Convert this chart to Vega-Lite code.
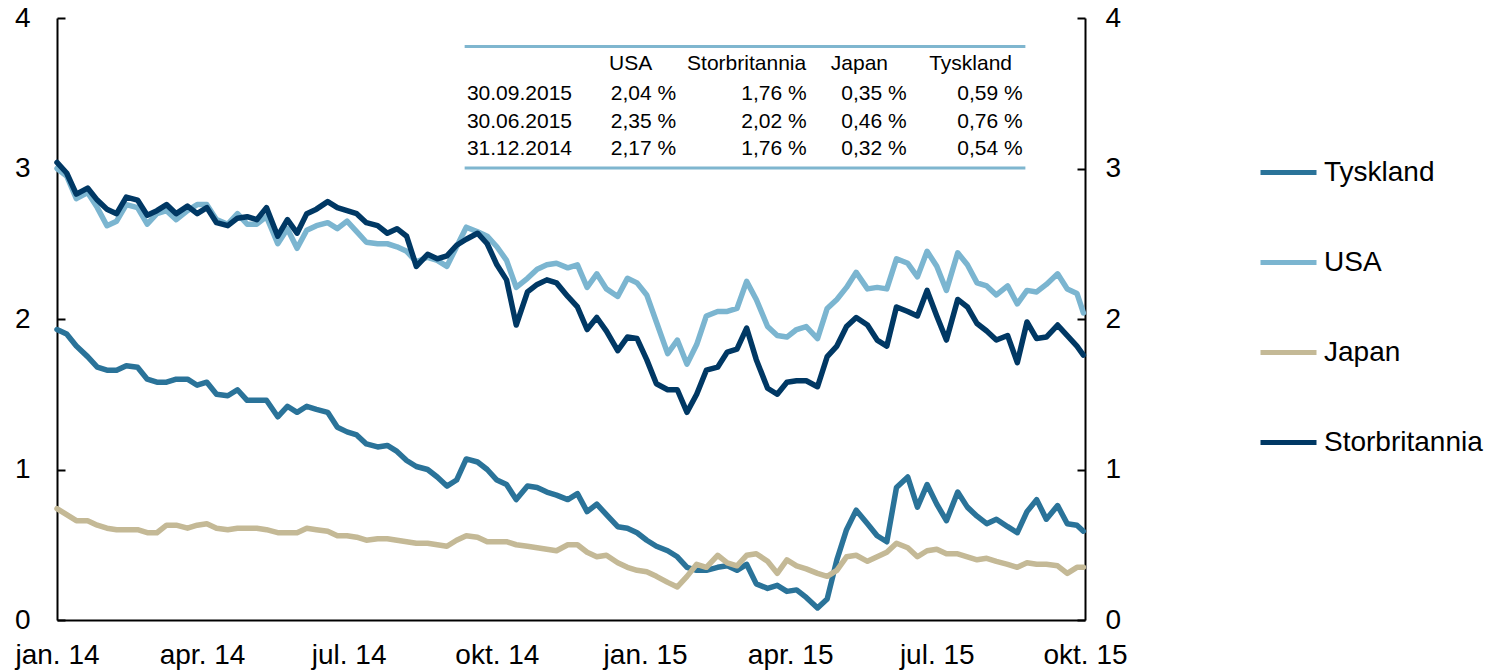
{
"$schema": "https://vega.github.io/schema/vega-lite/v6.json",
"width": 1028, "height": 602,
"autosize": {"type": "none"},
"padding": {"left": 57, "top": 18, "right": 410, "bottom": 50},
"background": "white",
"config": {"view": {"stroke": null}, "font": "Liberation Sans"},
"datasets": {
"series": [
{"d":"2014-01-01","s":"Tyskland","v":1.93},{"d":"2014-01-07","s":"Tyskland","v":1.90},{"d":"2014-01-13","s":"Tyskland","v":1.82},{"d":"2014-01-20","s":"Tyskland","v":1.75},{"d":"2014-01-26","s":"Tyskland","v":1.68},{"d":"2014-02-01","s":"Tyskland","v":1.66},{"d":"2014-02-07","s":"Tyskland","v":1.66},{"d":"2014-02-13","s":"Tyskland","v":1.69},{"d":"2014-02-20","s":"Tyskland","v":1.68},{"d":"2014-02-26","s":"Tyskland","v":1.60},
{"d":"2014-03-04","s":"Tyskland","v":1.58},{"d":"2014-03-10","s":"Tyskland","v":1.58},{"d":"2014-03-16","s":"Tyskland","v":1.60},{"d":"2014-03-23","s":"Tyskland","v":1.60},{"d":"2014-03-29","s":"Tyskland","v":1.56},{"d":"2014-04-04","s":"Tyskland","v":1.58},{"d":"2014-04-10","s":"Tyskland","v":1.50},{"d":"2014-04-17","s":"Tyskland","v":1.49},{"d":"2014-04-23","s":"Tyskland","v":1.53},{"d":"2014-04-29","s":"Tyskland","v":1.46},
{"d":"2014-05-05","s":"Tyskland","v":1.46},{"d":"2014-05-11","s":"Tyskland","v":1.46},{"d":"2014-05-18","s":"Tyskland","v":1.35},{"d":"2014-05-24","s":"Tyskland","v":1.42},{"d":"2014-05-30","s":"Tyskland","v":1.38},{"d":"2014-06-05","s":"Tyskland","v":1.42},{"d":"2014-06-11","s":"Tyskland","v":1.40},{"d":"2014-06-18","s":"Tyskland","v":1.38},{"d":"2014-06-24","s":"Tyskland","v":1.28},{"d":"2014-06-30","s":"Tyskland","v":1.25},
{"d":"2014-07-06","s":"Tyskland","v":1.23},{"d":"2014-07-12","s":"Tyskland","v":1.17},{"d":"2014-07-19","s":"Tyskland","v":1.15},{"d":"2014-07-25","s":"Tyskland","v":1.16},{"d":"2014-07-31","s":"Tyskland","v":1.12},{"d":"2014-08-06","s":"Tyskland","v":1.06},{"d":"2014-08-12","s":"Tyskland","v":1.02},{"d":"2014-08-19","s":"Tyskland","v":1.00},{"d":"2014-08-25","s":"Tyskland","v":0.95},{"d":"2014-08-31","s":"Tyskland","v":0.89},
{"d":"2014-09-06","s":"Tyskland","v":0.93},{"d":"2014-09-12","s":"Tyskland","v":1.07},{"d":"2014-09-19","s":"Tyskland","v":1.05},{"d":"2014-09-25","s":"Tyskland","v":1.00},{"d":"2014-10-01","s":"Tyskland","v":0.93},{"d":"2014-10-07","s":"Tyskland","v":0.90},{"d":"2014-10-13","s":"Tyskland","v":0.80},{"d":"2014-10-20","s":"Tyskland","v":0.89},{"d":"2014-10-26","s":"Tyskland","v":0.88},{"d":"2014-11-01","s":"Tyskland","v":0.85},
{"d":"2014-11-07","s":"Tyskland","v":0.83},{"d":"2014-11-14","s":"Tyskland","v":0.80},{"d":"2014-11-20","s":"Tyskland","v":0.84},{"d":"2014-11-26","s":"Tyskland","v":0.72},{"d":"2014-12-02","s":"Tyskland","v":0.77},{"d":"2014-12-08","s":"Tyskland","v":0.70},{"d":"2014-12-15","s":"Tyskland","v":0.62},{"d":"2014-12-21","s":"Tyskland","v":0.61},{"d":"2014-12-27","s":"Tyskland","v":0.58},{"d":"2015-01-02","s":"Tyskland","v":0.53},
{"d":"2015-01-08","s":"Tyskland","v":0.49},{"d":"2015-01-15","s":"Tyskland","v":0.46},{"d":"2015-01-21","s":"Tyskland","v":0.42},{"d":"2015-01-27","s":"Tyskland","v":0.35},{"d":"2015-02-02","s":"Tyskland","v":0.33},{"d":"2015-02-08","s":"Tyskland","v":0.33},{"d":"2015-02-15","s":"Tyskland","v":0.35},{"d":"2015-02-21","s":"Tyskland","v":0.36},{"d":"2015-02-27","s":"Tyskland","v":0.33},{"d":"2015-03-05","s":"Tyskland","v":0.37},
{"d":"2015-03-11","s":"Tyskland","v":0.24},{"d":"2015-03-18","s":"Tyskland","v":0.21},{"d":"2015-03-24","s":"Tyskland","v":0.23},{"d":"2015-03-30","s":"Tyskland","v":0.19},{"d":"2015-04-05","s":"Tyskland","v":0.20},{"d":"2015-04-11","s":"Tyskland","v":0.15},{"d":"2015-04-18","s":"Tyskland","v":0.08},{"d":"2015-04-24","s":"Tyskland","v":0.14},{"d":"2015-04-30","s":"Tyskland","v":0.40},{"d":"2015-05-06","s":"Tyskland","v":0.60},
{"d":"2015-05-12","s":"Tyskland","v":0.73},{"d":"2015-05-19","s":"Tyskland","v":0.64},{"d":"2015-05-25","s":"Tyskland","v":0.56},{"d":"2015-05-31","s":"Tyskland","v":0.52},{"d":"2015-06-06","s":"Tyskland","v":0.88},{"d":"2015-06-13","s":"Tyskland","v":0.95},{"d":"2015-06-19","s":"Tyskland","v":0.75},{"d":"2015-06-25","s":"Tyskland","v":0.90},{"d":"2015-07-01","s":"Tyskland","v":0.77},{"d":"2015-07-07","s":"Tyskland","v":0.66},
{"d":"2015-07-14","s":"Tyskland","v":0.85},{"d":"2015-07-20","s":"Tyskland","v":0.75},{"d":"2015-07-26","s":"Tyskland","v":0.69},{"d":"2015-08-01","s":"Tyskland","v":0.64},{"d":"2015-08-07","s":"Tyskland","v":0.67},{"d":"2015-08-14","s":"Tyskland","v":0.62},{"d":"2015-08-20","s":"Tyskland","v":0.58},{"d":"2015-08-26","s":"Tyskland","v":0.72},{"d":"2015-09-01","s":"Tyskland","v":0.80},{"d":"2015-09-07","s":"Tyskland","v":0.67},
{"d":"2015-09-14","s":"Tyskland","v":0.76},{"d":"2015-09-20","s":"Tyskland","v":0.64},{"d":"2015-09-26","s":"Tyskland","v":0.63},{"d":"2015-09-30","s":"Tyskland","v":0.59},

{"d":"2014-01-01","s":"USA","v":3.00},{"d":"2014-01-07","s":"USA","v":2.95},{"d":"2014-01-13","s":"USA","v":2.80},{"d":"2014-01-20","s":"USA","v":2.84},{"d":"2014-01-26","s":"USA","v":2.74},{"d":"2014-02-01","s":"USA","v":2.62},{"d":"2014-02-07","s":"USA","v":2.65},{"d":"2014-02-13","s":"USA","v":2.76},{"d":"2014-02-20","s":"USA","v":2.74},{"d":"2014-02-26","s":"USA","v":2.63},
{"d":"2014-03-04","s":"USA","v":2.70},{"d":"2014-03-10","s":"USA","v":2.72},{"d":"2014-03-16","s":"USA","v":2.66},{"d":"2014-03-23","s":"USA","v":2.72},{"d":"2014-03-29","s":"USA","v":2.76},{"d":"2014-04-04","s":"USA","v":2.76},{"d":"2014-04-10","s":"USA","v":2.66},{"d":"2014-04-17","s":"USA","v":2.63},{"d":"2014-04-23","s":"USA","v":2.70},{"d":"2014-04-29","s":"USA","v":2.63},
{"d":"2014-05-05","s":"USA","v":2.63},{"d":"2014-05-11","s":"USA","v":2.68},{"d":"2014-05-18","s":"USA","v":2.50},{"d":"2014-05-24","s":"USA","v":2.60},{"d":"2014-05-30","s":"USA","v":2.47},{"d":"2014-06-05","s":"USA","v":2.59},{"d":"2014-06-11","s":"USA","v":2.62},{"d":"2014-06-18","s":"USA","v":2.64},{"d":"2014-06-24","s":"USA","v":2.60},{"d":"2014-06-30","s":"USA","v":2.65},
{"d":"2014-07-06","s":"USA","v":2.58},{"d":"2014-07-12","s":"USA","v":2.51},{"d":"2014-07-19","s":"USA","v":2.50},{"d":"2014-07-25","s":"USA","v":2.50},{"d":"2014-07-31","s":"USA","v":2.48},{"d":"2014-08-06","s":"USA","v":2.45},{"d":"2014-08-12","s":"USA","v":2.38},{"d":"2014-08-19","s":"USA","v":2.41},{"d":"2014-08-25","s":"USA","v":2.39},{"d":"2014-08-31","s":"USA","v":2.35},
{"d":"2014-09-06","s":"USA","v":2.48},{"d":"2014-09-12","s":"USA","v":2.61},{"d":"2014-09-19","s":"USA","v":2.58},{"d":"2014-09-25","s":"USA","v":2.55},{"d":"2014-10-01","s":"USA","v":2.48},{"d":"2014-10-07","s":"USA","v":2.39},{"d":"2014-10-13","s":"USA","v":2.21},{"d":"2014-10-20","s":"USA","v":2.27},{"d":"2014-10-26","s":"USA","v":2.33},{"d":"2014-11-01","s":"USA","v":2.36},
{"d":"2014-11-07","s":"USA","v":2.37},{"d":"2014-11-14","s":"USA","v":2.34},{"d":"2014-11-20","s":"USA","v":2.36},{"d":"2014-11-26","s":"USA","v":2.21},{"d":"2014-12-02","s":"USA","v":2.30},{"d":"2014-12-08","s":"USA","v":2.20},{"d":"2014-12-15","s":"USA","v":2.15},{"d":"2014-12-21","s":"USA","v":2.27},{"d":"2014-12-27","s":"USA","v":2.24},{"d":"2015-01-02","s":"USA","v":2.16},
{"d":"2015-01-08","s":"USA","v":1.98},{"d":"2015-01-15","s":"USA","v":1.77},{"d":"2015-01-21","s":"USA","v":1.86},{"d":"2015-01-27","s":"USA","v":1.70},{"d":"2015-02-02","s":"USA","v":1.83},{"d":"2015-02-08","s":"USA","v":2.02},{"d":"2015-02-15","s":"USA","v":2.05},{"d":"2015-02-21","s":"USA","v":2.05},{"d":"2015-02-27","s":"USA","v":2.07},{"d":"2015-03-05","s":"USA","v":2.25},
{"d":"2015-03-11","s":"USA","v":2.13},{"d":"2015-03-18","s":"USA","v":1.95},{"d":"2015-03-24","s":"USA","v":1.89},{"d":"2015-03-30","s":"USA","v":1.88},{"d":"2015-04-05","s":"USA","v":1.93},{"d":"2015-04-11","s":"USA","v":1.95},{"d":"2015-04-18","s":"USA","v":1.87},{"d":"2015-04-24","s":"USA","v":2.07},{"d":"2015-04-30","s":"USA","v":2.13},{"d":"2015-05-06","s":"USA","v":2.21},
{"d":"2015-05-12","s":"USA","v":2.31},{"d":"2015-05-19","s":"USA","v":2.20},{"d":"2015-05-25","s":"USA","v":2.21},{"d":"2015-05-31","s":"USA","v":2.20},{"d":"2015-06-06","s":"USA","v":2.40},{"d":"2015-06-13","s":"USA","v":2.37},{"d":"2015-06-19","s":"USA","v":2.28},{"d":"2015-06-25","s":"USA","v":2.45},{"d":"2015-07-01","s":"USA","v":2.35},{"d":"2015-07-07","s":"USA","v":2.19},
{"d":"2015-07-14","s":"USA","v":2.44},{"d":"2015-07-20","s":"USA","v":2.36},{"d":"2015-07-26","s":"USA","v":2.24},{"d":"2015-08-01","s":"USA","v":2.22},{"d":"2015-08-07","s":"USA","v":2.16},{"d":"2015-08-14","s":"USA","v":2.22},{"d":"2015-08-20","s":"USA","v":2.10},{"d":"2015-08-26","s":"USA","v":2.19},{"d":"2015-09-01","s":"USA","v":2.18},{"d":"2015-09-07","s":"USA","v":2.23},
{"d":"2015-09-14","s":"USA","v":2.30},{"d":"2015-09-20","s":"USA","v":2.20},{"d":"2015-09-26","s":"USA","v":2.17},{"d":"2015-09-30","s":"USA","v":2.04},

{"d":"2014-01-01","s":"Japan","v":0.74},{"d":"2014-01-07","s":"Japan","v":0.70},{"d":"2014-01-13","s":"Japan","v":0.66},{"d":"2014-01-20","s":"Japan","v":0.66},{"d":"2014-01-26","s":"Japan","v":0.63},{"d":"2014-02-01","s":"Japan","v":0.61},{"d":"2014-02-07","s":"Japan","v":0.60},{"d":"2014-02-13","s":"Japan","v":0.60},{"d":"2014-02-20","s":"Japan","v":0.60},{"d":"2014-02-26","s":"Japan","v":0.58},
{"d":"2014-03-04","s":"Japan","v":0.58},{"d":"2014-03-10","s":"Japan","v":0.63},{"d":"2014-03-16","s":"Japan","v":0.63},{"d":"2014-03-23","s":"Japan","v":0.61},{"d":"2014-03-29","s":"Japan","v":0.63},{"d":"2014-04-04","s":"Japan","v":0.64},{"d":"2014-04-10","s":"Japan","v":0.61},{"d":"2014-04-17","s":"Japan","v":0.60},{"d":"2014-04-23","s":"Japan","v":0.61},{"d":"2014-04-29","s":"Japan","v":0.61},
{"d":"2014-05-05","s":"Japan","v":0.61},{"d":"2014-05-11","s":"Japan","v":0.60},{"d":"2014-05-18","s":"Japan","v":0.58},{"d":"2014-05-24","s":"Japan","v":0.58},{"d":"2014-05-30","s":"Japan","v":0.58},{"d":"2014-06-05","s":"Japan","v":0.61},{"d":"2014-06-11","s":"Japan","v":0.60},{"d":"2014-06-18","s":"Japan","v":0.59},{"d":"2014-06-24","s":"Japan","v":0.56},{"d":"2014-06-30","s":"Japan","v":0.56},
{"d":"2014-07-06","s":"Japan","v":0.55},{"d":"2014-07-12","s":"Japan","v":0.53},{"d":"2014-07-19","s":"Japan","v":0.54},{"d":"2014-07-25","s":"Japan","v":0.54},{"d":"2014-07-31","s":"Japan","v":0.53},{"d":"2014-08-06","s":"Japan","v":0.52},{"d":"2014-08-12","s":"Japan","v":0.51},{"d":"2014-08-19","s":"Japan","v":0.51},{"d":"2014-08-25","s":"Japan","v":0.50},{"d":"2014-08-31","s":"Japan","v":0.49},
{"d":"2014-09-06","s":"Japan","v":0.53},{"d":"2014-09-12","s":"Japan","v":0.56},{"d":"2014-09-19","s":"Japan","v":0.55},{"d":"2014-09-25","s":"Japan","v":0.52},{"d":"2014-10-01","s":"Japan","v":0.52},{"d":"2014-10-07","s":"Japan","v":0.52},{"d":"2014-10-13","s":"Japan","v":0.50},{"d":"2014-10-20","s":"Japan","v":0.49},{"d":"2014-10-26","s":"Japan","v":0.48},{"d":"2014-11-01","s":"Japan","v":0.47},
{"d":"2014-11-07","s":"Japan","v":0.46},{"d":"2014-11-14","s":"Japan","v":0.50},{"d":"2014-11-20","s":"Japan","v":0.50},{"d":"2014-11-26","s":"Japan","v":0.45},{"d":"2014-12-02","s":"Japan","v":0.42},{"d":"2014-12-08","s":"Japan","v":0.43},{"d":"2014-12-15","s":"Japan","v":0.38},{"d":"2014-12-21","s":"Japan","v":0.35},{"d":"2014-12-27","s":"Japan","v":0.33},{"d":"2015-01-02","s":"Japan","v":0.32},
{"d":"2015-01-08","s":"Japan","v":0.29},{"d":"2015-01-15","s":"Japan","v":0.25},{"d":"2015-01-21","s":"Japan","v":0.22},{"d":"2015-01-27","s":"Japan","v":0.29},{"d":"2015-02-02","s":"Japan","v":0.37},{"d":"2015-02-08","s":"Japan","v":0.35},{"d":"2015-02-15","s":"Japan","v":0.43},{"d":"2015-02-21","s":"Japan","v":0.38},{"d":"2015-02-27","s":"Japan","v":0.36},{"d":"2015-03-05","s":"Japan","v":0.43},
{"d":"2015-03-11","s":"Japan","v":0.44},{"d":"2015-03-18","s":"Japan","v":0.39},{"d":"2015-03-24","s":"Japan","v":0.31},{"d":"2015-03-30","s":"Japan","v":0.40},{"d":"2015-04-05","s":"Japan","v":0.36},{"d":"2015-04-11","s":"Japan","v":0.34},{"d":"2015-04-18","s":"Japan","v":0.31},{"d":"2015-04-24","s":"Japan","v":0.29},{"d":"2015-04-30","s":"Japan","v":0.33},{"d":"2015-05-06","s":"Japan","v":0.42},
{"d":"2015-05-12","s":"Japan","v":0.43},{"d":"2015-05-19","s":"Japan","v":0.39},{"d":"2015-05-25","s":"Japan","v":0.42},{"d":"2015-05-31","s":"Japan","v":0.45},{"d":"2015-06-06","s":"Japan","v":0.51},{"d":"2015-06-13","s":"Japan","v":0.48},{"d":"2015-06-19","s":"Japan","v":0.42},{"d":"2015-06-25","s":"Japan","v":0.46},{"d":"2015-07-01","s":"Japan","v":0.47},{"d":"2015-07-07","s":"Japan","v":0.44},
{"d":"2015-07-14","s":"Japan","v":0.44},{"d":"2015-07-20","s":"Japan","v":0.42},{"d":"2015-07-26","s":"Japan","v":0.40},{"d":"2015-08-01","s":"Japan","v":0.41},{"d":"2015-08-07","s":"Japan","v":0.39},{"d":"2015-08-14","s":"Japan","v":0.37},{"d":"2015-08-20","s":"Japan","v":0.35},{"d":"2015-08-26","s":"Japan","v":0.38},{"d":"2015-09-01","s":"Japan","v":0.37},{"d":"2015-09-07","s":"Japan","v":0.37},
{"d":"2015-09-14","s":"Japan","v":0.36},{"d":"2015-09-20","s":"Japan","v":0.31},{"d":"2015-09-26","s":"Japan","v":0.35},{"d":"2015-09-30","s":"Japan","v":0.35},

{"d":"2014-01-01","s":"Storbritannia","v":3.04},{"d":"2014-01-07","s":"Storbritannia","v":2.97},{"d":"2014-01-13","s":"Storbritannia","v":2.83},{"d":"2014-01-20","s":"Storbritannia","v":2.87},{"d":"2014-01-26","s":"Storbritannia","v":2.79},{"d":"2014-02-01","s":"Storbritannia","v":2.73},{"d":"2014-02-07","s":"Storbritannia","v":2.70},{"d":"2014-02-13","s":"Storbritannia","v":2.81},{"d":"2014-02-20","s":"Storbritannia","v":2.79},{"d":"2014-02-26","s":"Storbritannia","v":2.69},
{"d":"2014-03-04","s":"Storbritannia","v":2.72},{"d":"2014-03-10","s":"Storbritannia","v":2.76},{"d":"2014-03-16","s":"Storbritannia","v":2.70},{"d":"2014-03-23","s":"Storbritannia","v":2.75},{"d":"2014-03-29","s":"Storbritannia","v":2.70},{"d":"2014-04-04","s":"Storbritannia","v":2.74},{"d":"2014-04-10","s":"Storbritannia","v":2.64},{"d":"2014-04-17","s":"Storbritannia","v":2.62},{"d":"2014-04-23","s":"Storbritannia","v":2.67},{"d":"2014-04-29","s":"Storbritannia","v":2.68},
{"d":"2014-05-05","s":"Storbritannia","v":2.66},{"d":"2014-05-11","s":"Storbritannia","v":2.74},{"d":"2014-05-18","s":"Storbritannia","v":2.55},{"d":"2014-05-24","s":"Storbritannia","v":2.66},{"d":"2014-05-30","s":"Storbritannia","v":2.57},{"d":"2014-06-05","s":"Storbritannia","v":2.70},{"d":"2014-06-11","s":"Storbritannia","v":2.73},{"d":"2014-06-18","s":"Storbritannia","v":2.78},{"d":"2014-06-24","s":"Storbritannia","v":2.74},{"d":"2014-06-30","s":"Storbritannia","v":2.72},
{"d":"2014-07-06","s":"Storbritannia","v":2.70},{"d":"2014-07-12","s":"Storbritannia","v":2.64},{"d":"2014-07-19","s":"Storbritannia","v":2.62},{"d":"2014-07-25","s":"Storbritannia","v":2.57},{"d":"2014-07-31","s":"Storbritannia","v":2.60},{"d":"2014-08-06","s":"Storbritannia","v":2.55},{"d":"2014-08-12","s":"Storbritannia","v":2.35},{"d":"2014-08-19","s":"Storbritannia","v":2.43},{"d":"2014-08-25","s":"Storbritannia","v":2.40},{"d":"2014-08-31","s":"Storbritannia","v":2.42},
{"d":"2014-09-06","s":"Storbritannia","v":2.49},{"d":"2014-09-12","s":"Storbritannia","v":2.53},{"d":"2014-09-19","s":"Storbritannia","v":2.57},{"d":"2014-09-25","s":"Storbritannia","v":2.50},{"d":"2014-10-01","s":"Storbritannia","v":2.36},{"d":"2014-10-07","s":"Storbritannia","v":2.26},{"d":"2014-10-13","s":"Storbritannia","v":1.96},{"d":"2014-10-20","s":"Storbritannia","v":2.18},{"d":"2014-10-26","s":"Storbritannia","v":2.23},{"d":"2014-11-01","s":"Storbritannia","v":2.26},
{"d":"2014-11-07","s":"Storbritannia","v":2.24},{"d":"2014-11-14","s":"Storbritannia","v":2.15},{"d":"2014-11-20","s":"Storbritannia","v":2.08},{"d":"2014-11-26","s":"Storbritannia","v":1.93},{"d":"2014-12-02","s":"Storbritannia","v":2.01},{"d":"2014-12-08","s":"Storbritannia","v":1.92},{"d":"2014-12-15","s":"Storbritannia","v":1.79},{"d":"2014-12-21","s":"Storbritannia","v":1.88},{"d":"2014-12-27","s":"Storbritannia","v":1.87},{"d":"2015-01-02","s":"Storbritannia","v":1.73},
{"d":"2015-01-08","s":"Storbritannia","v":1.57},{"d":"2015-01-15","s":"Storbritannia","v":1.53},{"d":"2015-01-21","s":"Storbritannia","v":1.53},{"d":"2015-01-27","s":"Storbritannia","v":1.38},{"d":"2015-02-02","s":"Storbritannia","v":1.50},{"d":"2015-02-08","s":"Storbritannia","v":1.66},{"d":"2015-02-15","s":"Storbritannia","v":1.68},{"d":"2015-02-21","s":"Storbritannia","v":1.78},{"d":"2015-02-27","s":"Storbritannia","v":1.80},{"d":"2015-03-05","s":"Storbritannia","v":1.94},
{"d":"2015-03-11","s":"Storbritannia","v":1.73},{"d":"2015-03-18","s":"Storbritannia","v":1.54},{"d":"2015-03-24","s":"Storbritannia","v":1.50},{"d":"2015-03-30","s":"Storbritannia","v":1.58},{"d":"2015-04-05","s":"Storbritannia","v":1.59},{"d":"2015-04-11","s":"Storbritannia","v":1.59},{"d":"2015-04-18","s":"Storbritannia","v":1.55},{"d":"2015-04-24","s":"Storbritannia","v":1.75},{"d":"2015-04-30","s":"Storbritannia","v":1.82},{"d":"2015-05-06","s":"Storbritannia","v":1.95},
{"d":"2015-05-12","s":"Storbritannia","v":2.01},{"d":"2015-05-19","s":"Storbritannia","v":1.96},{"d":"2015-05-25","s":"Storbritannia","v":1.86},{"d":"2015-05-31","s":"Storbritannia","v":1.82},{"d":"2015-06-06","s":"Storbritannia","v":2.08},{"d":"2015-06-13","s":"Storbritannia","v":2.05},{"d":"2015-06-19","s":"Storbritannia","v":2.02},{"d":"2015-06-25","s":"Storbritannia","v":2.19},{"d":"2015-07-01","s":"Storbritannia","v":2.02},{"d":"2015-07-07","s":"Storbritannia","v":1.86},
{"d":"2015-07-14","s":"Storbritannia","v":2.13},{"d":"2015-07-20","s":"Storbritannia","v":2.08},{"d":"2015-07-26","s":"Storbritannia","v":1.97},{"d":"2015-08-01","s":"Storbritannia","v":1.92},{"d":"2015-08-07","s":"Storbritannia","v":1.86},{"d":"2015-08-14","s":"Storbritannia","v":1.89},{"d":"2015-08-20","s":"Storbritannia","v":1.71},{"d":"2015-08-26","s":"Storbritannia","v":1.98},{"d":"2015-09-01","s":"Storbritannia","v":1.87},{"d":"2015-09-07","s":"Storbritannia","v":1.88},
{"d":"2015-09-14","s":"Storbritannia","v":1.96},{"d":"2015-09-20","s":"Storbritannia","v":1.89},{"d":"2015-09-26","s":"Storbritannia","v":1.82},{"d":"2015-09-30","s":"Storbritannia","v":1.76}
],
"rules": [
{"d":"2014-09-11","d2":"2015-08-25","v":3.81},
{"d":"2014-09-11","d2":"2015-08-25","v":3.003}
],
"table": [
{"d":"2014-12-23","v":3.694,"t":"USA"},
{"d":"2015-03-05","v":3.694,"t":"Storbritannia"},
{"d":"2015-05-14","v":3.694,"t":"Japan"},
{"d":"2015-07-22","v":3.694,"t":"Tyskland"},
{"d":"2014-10-15","v":3.495,"t":"30.09.2015"},
{"d":"2014-12-31","v":3.495,"t":"2,04 %"},
{"d":"2015-03-22","v":3.495,"t":"1,76 %"},
{"d":"2015-05-23","v":3.495,"t":"0,35 %"},
{"d":"2015-08-03","v":3.495,"t":"0,59 %"},
{"d":"2014-10-15","v":3.306,"t":"30.06.2015"},
{"d":"2014-12-31","v":3.306,"t":"2,35 %"},
{"d":"2015-03-22","v":3.306,"t":"2,02 %"},
{"d":"2015-05-23","v":3.306,"t":"0,46 %"},
{"d":"2015-08-03","v":3.306,"t":"0,76 %"},
{"d":"2014-10-15","v":3.13,"t":"31.12.2014"},
{"d":"2014-12-31","v":3.13,"t":"2,17 %"},
{"d":"2015-03-22","v":3.13,"t":"1,76 %"},
{"d":"2015-05-23","v":3.13,"t":"0,32 %"},
{"d":"2015-08-03","v":3.13,"t":"0,54 %"}
]
},
"layer": [
{
"data": {"name": "series"},
"mark": {"type": "line", "strokeWidth": 5.5, "strokeJoin": "round", "strokeCap": "round"},
"encoding": {
"x": {"field": "d", "type": "temporal", "title": null,
"scale": {"type": "utc", "domain": [{"year": 2014, "month": 1, "date": 1, "utc": true}, {"year": 2015, "month": 10, "date": 1, "utc": true}]},
"axis": {"values": [{"year": 2014, "month": 1, "date": 1, "utc": true}, {"year": 2014, "month": 4, "date": 1, "utc": true}, {"year": 2014, "month": 7, "date": 1, "utc": true}, {"year": 2014, "month": 10, "date": 1, "utc": true}, {"year": 2015, "month": 1, "date": 1, "utc": true}, {"year": 2015, "month": 4, "date": 1, "utc": true}, {"year": 2015, "month": 7, "date": 1, "utc": true}, {"year": 2015, "month": 10, "date": 1, "utc": true}],
"labelExpr": "['jan.','feb.','mar.','apr.','mai','jun.','jul.','aug.','sep.','okt.','nov.','des.'][utcmonth(datum.value)] + ' ' + utcFormat(datum.value, '%y')",
"ticks": false, "grid": false, "domainColor": "black", "domainWidth": 2,
"labelFontSize": 28, "labelFont": "Liberation Sans", "labelColor": "black", "labelPadding": 21,
"labelFlush": false, "labelOverlap": false, "labelBound": false}},
"y": {"field": "v", "type": "quantitative", "title": null,
"scale": {"domain": [0, 4], "nice": false, "zero": false},
"axis": {"orient": "left", "values": [0, 1, 2, 3, 4], "format": "d", "grid": false,
"tickSize": -8, "tickWidth": 2, "tickColor": "black", "domainColor": "black", "domainWidth": 2,
"labelFontSize": 28, "labelFont": "Liberation Sans", "labelColor": "black", "labelPadding": 35}},
"color": {"field": "s", "type": "nominal",
"scale": {"domain": ["Tyskland", "USA", "Japan", "Storbritannia"], "range": ["#2a7399", "#7bb5d0", "#c4b996", "#003864"]},
"legend": {"title": null, "orient": "none", "legendX": 1201, "legendY": 124, "symbolType": "stroke", "symbolSize": 3136, "symbolStrokeWidth": 5,
"labelFontSize": 28, "labelFont": "Liberation Sans", "labelColor": "black", "rowPadding": 45, "labelOffset": 5, "padding": 0}}
}
},
{
"data": {"name": "rules"},
"mark": {"type": "rule", "color": "#7fb6cf", "strokeWidth": 3},
"encoding": {
"x": {"field": "d", "type": "temporal", "title": null},
"x2": {"field": "d2"},
"y": {"field": "v", "type": "quantitative", "scale": {"domain": [0, 4], "nice": false, "zero": false}, "axis": null}
}
},
{
"data": {"name": "table"},
"mark": {"type": "text", "fontSize": 21, "font": "Liberation Sans", "color": "black", "align": "center", "baseline": "middle"},
"encoding": {
"x": {"field": "d", "type": "temporal", "title": null},
"y": {"field": "v", "type": "quantitative", "title": null,
"scale": {"domain": [0, 4], "nice": false, "zero": false},
"axis": {"orient": "right", "values": [0, 1, 2, 3, 4], "format": "d", "grid": false,
"tickSize": -8, "tickWidth": 2, "tickColor": "black", "domainColor": "black", "domainWidth": 2,
"labelFontSize": 28, "labelFont": "Liberation Sans", "labelColor": "black", "labelPadding": 28}},
"text": {"field": "t"}
}
}
],
"resolve": {"scale": {"y": "independent"}}
}
